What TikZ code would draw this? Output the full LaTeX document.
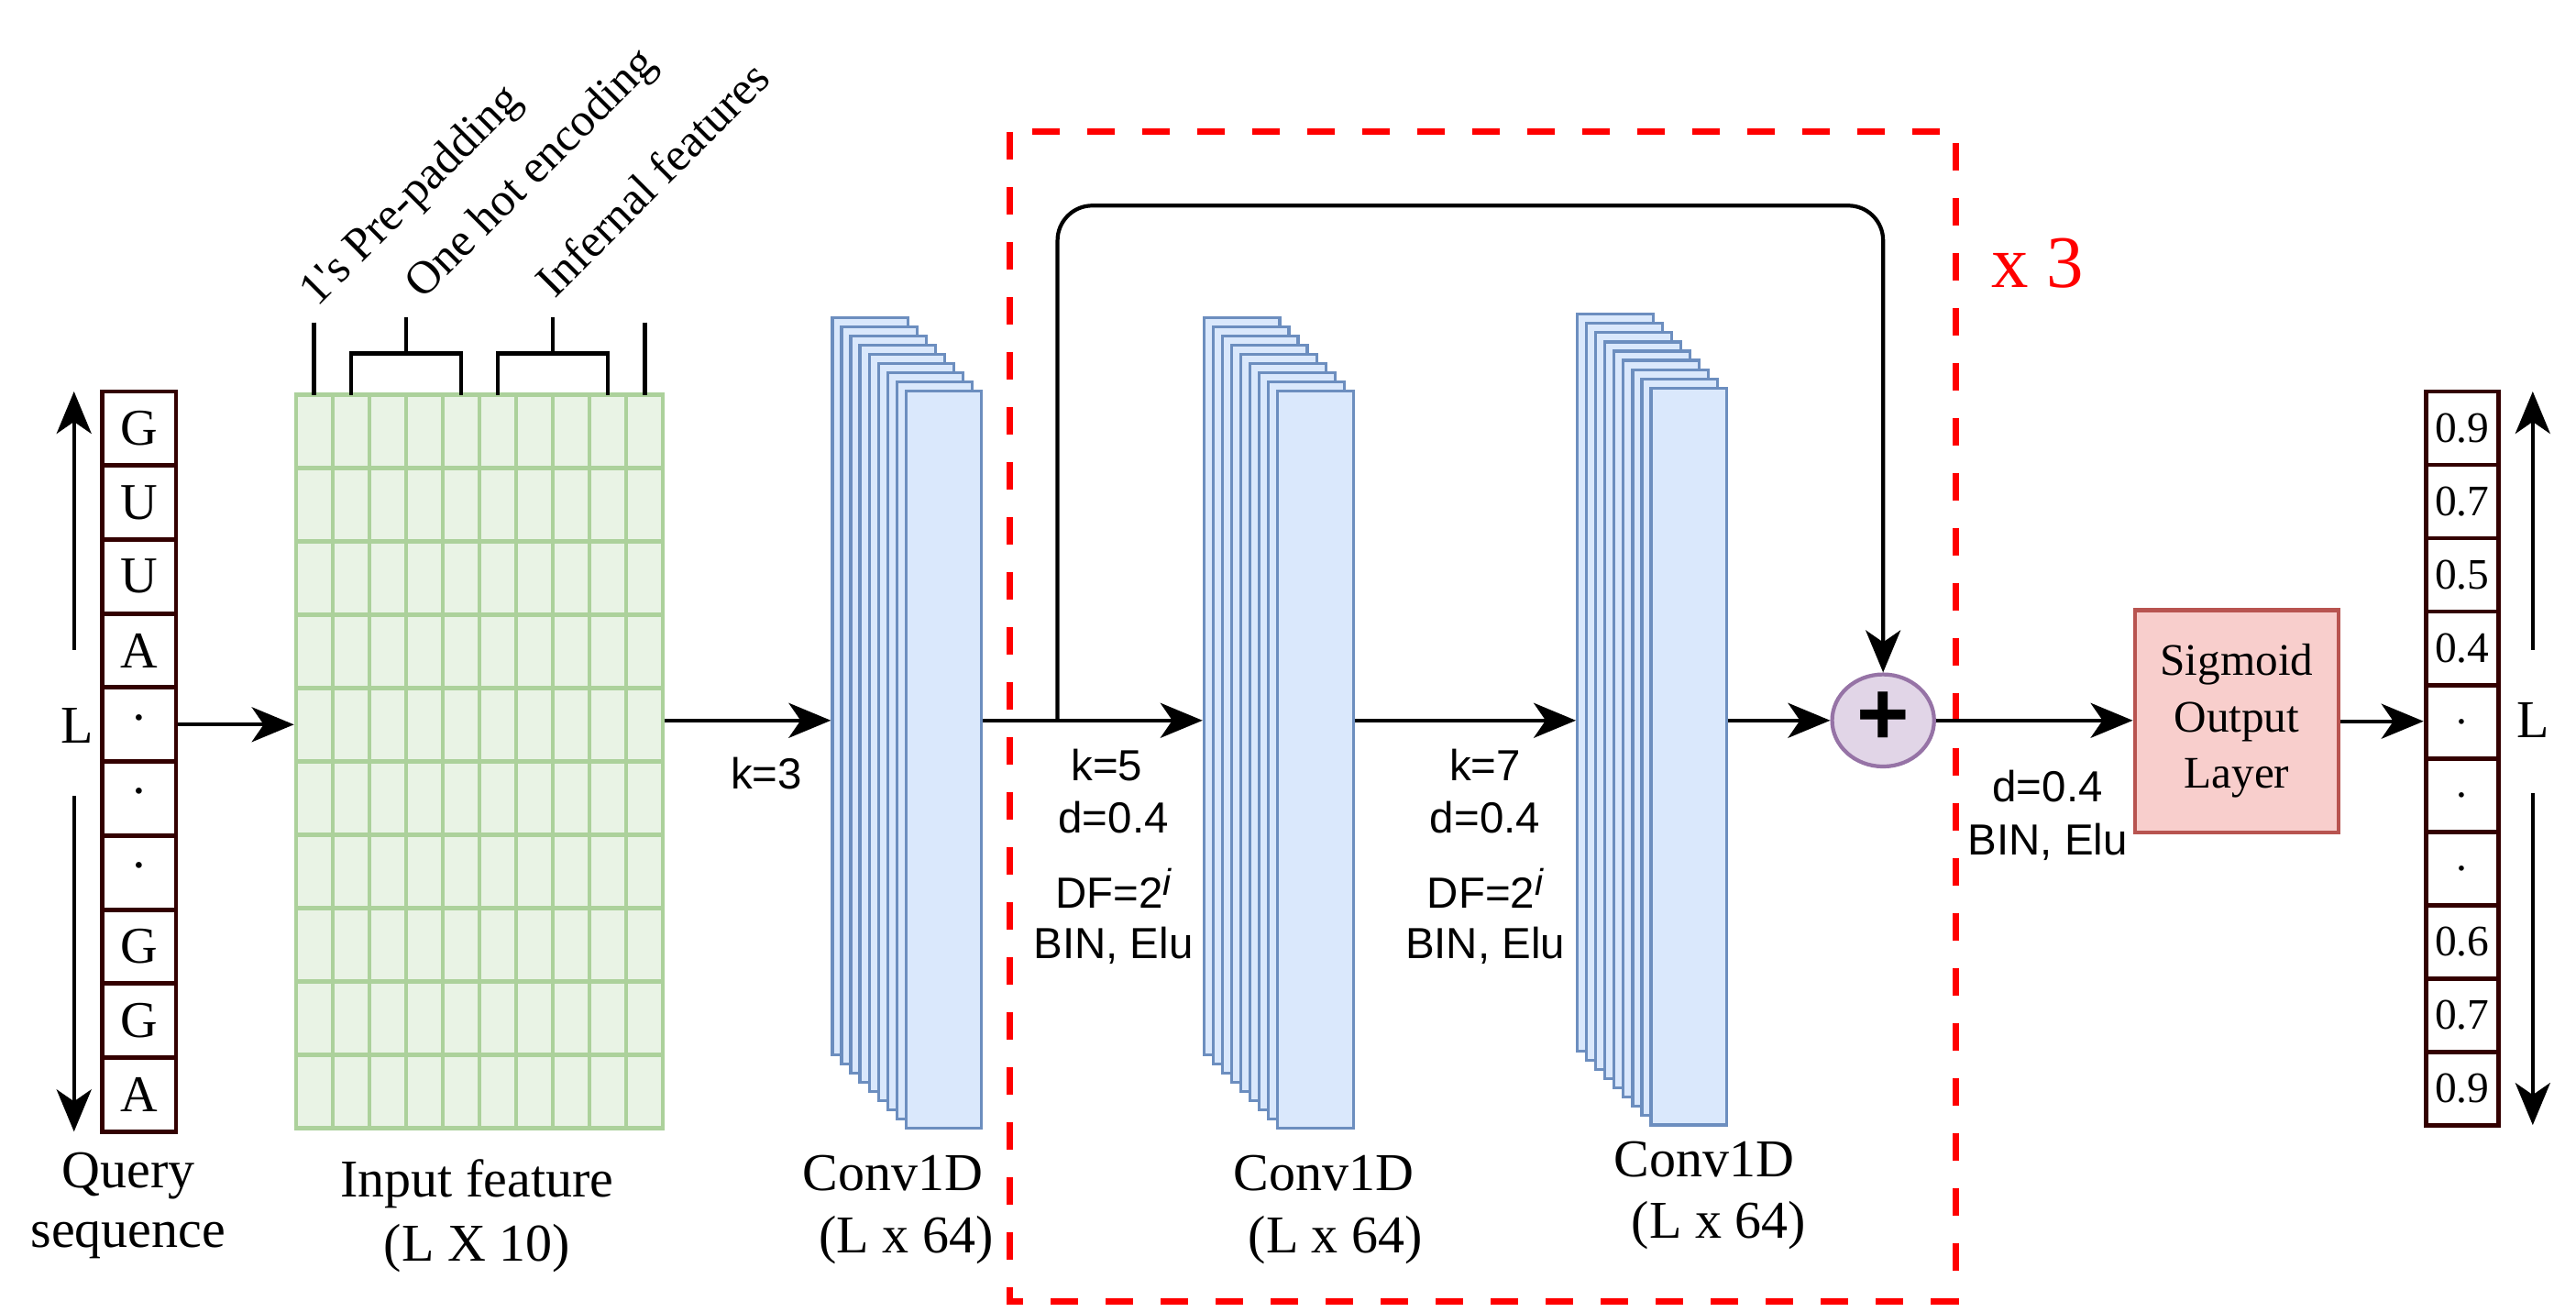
\documentclass[tikz,border=0pt]{standalone}
\usepackage{fontspec}
\setmainfont{Liberation Serif}
\newfontfamily\sansf{Liberation Sans}
\newfontfamily\rotf{Liberation Serif}[Ligatures=TeXOff]
\usetikzlibrary{arrows.meta,shapes.geometric,calc}
\newdimen\du \du=0.1794mm
\definecolor{gfill}{RGB}{233,243,229}
\definecolor{gline}{RGB}{172,209,155}
\definecolor{cfill}{HTML}{DAE8FC}
\definecolor{cline}{HTML}{6C8EBF}
\definecolor{pfill}{HTML}{E1D5E7}
\definecolor{pline}{HTML}{9673A6}
\definecolor{sfill}{HTML}{F8CECC}
\definecolor{sline}{HTML}{B85450}
\definecolor{qline}{HTML}{330000}
\tikzset{
  arr/.style={line width=1.2pt,-{Stealth[length=4.6mm,width=3.8mm,inset=1.3mm]}},
  plain/.style={line width=1.3pt},
  cell/.style={draw=qline,line width=1.4pt,fill=white,minimum width=45\du,minimum height=45\du,inner sep=0pt,font=\fontsize{16}{18}\selectfont},
  ocell/.style={draw=qline,line width=1.4pt,fill=white,minimum width=44\du,minimum height=44.6\du,inner sep=0pt,font=\fontsize{13.5}{16}\selectfont},
  conv/.style={draw=cline,fill=cfill,line width=0.9pt,minimum width=46\du,minimum height=448\du,inner sep=0pt,anchor=north west},
  lbl/.style={font=\fontsize{16.5}{20}\selectfont,inner sep=0pt},
  slbl/.style={font=\sansf\fontsize{13.5}{16}\selectfont,inner sep=0pt},
  rot/.style={font=\rotf\fontsize{14.5}{18}\selectfont,rotate=45,anchor=base west,inner sep=0pt},
}
\newcommand\dfi{DF=2\raisebox{0.55ex}{\fontsize{11.5}{12}\selectfont\itshape i}}
\begin{document}
\begin{tikzpicture}[x=0.1794mm,y=-0.1794mm]
\useasboundingbox (0,0) rectangle (1566.3,797.1);
\coordinate (ym) at (0,438);

% red repeat box
\draw[red,line width=2pt,dash pattern=on 3mm off 3mm] (614,80) rectangle (1189,791);
\node[text=red,font=\fontsize{23}{26}\selectfont,inner sep=0pt] (x3) at (1239,160) {x 3};

% query sequence
\foreach \t [count=\i] in {G,U,U,A,·,·,·,G,G,A}
  \node[cell] (q\i) at (84.5,{260.5+45*(\i-1)}) {\t};
\node[lbl] (Lq) at (47,441) {L};
\draw[arr] (45,395) coordinate (qa1) -- (45,238) coordinate (qa2);
\draw[arr] (45,484) coordinate (qa3) -- (45,688) coordinate (qa4);
\node[lbl] (qlab1) at (78,715) {Query};
\node[lbl] (qlab2) at (78,754) {sequence};

% input feature grid
\node[draw=gline,fill=gfill,line width=1.3pt,minimum width=223\du,minimum height=446\du,inner sep=0pt] (grid) at (291.5,463) {};
\foreach \k in {1,...,9} {
  \draw[gline,line width=1.3pt] ({180+22.3*\k},240) -- ({180+22.3*\k},686);
  \draw[gline,line width=1.3pt] (180,{240+44.6*\k}) -- (403,{240+44.6*\k});
}
\node[lbl] (glab1) at (290,720) {Input feature};
\node[lbl] (glab2) at (290,759) {(L X 10)};

% brackets
\draw[plain] (191,196) coordinate (b1) -- (191,240);
\draw[plain] (213.5,240) -- (213.5,215) -- (280.4,215) -- (280.4,240);
\draw[plain] (247,215) -- (247,193) coordinate (b2);
\draw[plain] (302.7,240) -- (302.7,215) -- (369.6,215) -- (369.6,240);
\draw[plain] (336,215) -- (336,193) coordinate (b3);
\draw[plain] (392,196) coordinate (b4) -- (392,240);
\node[rot] (t1) at (193,187) {1's Pre-padding};
\node[rot] (t2) at (257,183) {One hot encoding};
\node[rot] (t3) at (337,182) {Infernal features};

% conv stacks
\foreach \k in {8,...,0} {
  \node[conv] (a\k) at ({550-5.6*\k},{237-5.6*\k}) {};
}
\foreach \k in {8,...,0} {
  \node[conv] (b\k) at ({776-5.6*\k},{237-5.6*\k}) {};
}
\foreach \k in {8,...,0} {
  \node[conv] (c\k) at ({1003-5.6*\k},{235-5.6*\k}) {};
}
\node[lbl] (alab1) at (543,713) {Conv1D};
\node[lbl] (alab2) at (551,754) {(L x 64)};
\node[lbl] (blab1) at (805,713) {Conv1D};
\node[lbl] (blab2) at (812,754) {(L x 64)};
\node[lbl] (clab1) at (1036,705) {Conv1D};
\node[lbl] (clab2) at (1045,745) {(L x 64)};

% plus and sigmoid
\node[ellipse,draw=pline,fill=pfill,line width=1.2pt,minimum width=62\du,minimum height=56\du,inner sep=0pt,font=\sansf\bfseries\fontsize{28}{28}\selectfont] (plus) at (1145,438) {\smash{\raisebox{-0.27em}{+}}};
\node[draw=sline,fill=sfill,line width=1.2pt,minimum width=124\du,minimum height=135\du,align=center,font=\fontsize{14}{17.5}\selectfont,inner sep=0pt] (sig) at (1360,438.5) {Sigmoid\\Output\\Layer};

% output column
\foreach \t [count=\i] in {0.9,0.7,0.5,0.4,.,.,.,0.6,0.7,0.9}
  \node[ocell] (o\i) at (1497,{260.3+44.6*(\i-1)}) {\t};
\node[lbl] (Lo) at (1540,438) {L};
\draw[arr] (1540,395) coordinate (oa1) -- (1540,238) coordinate (oa2);
\draw[arr] (1540,482) coordinate (oa3) -- (1540,684) coordinate (oa4);

% connectors
\draw[arr] (q5.east) -- (q5.east -| grid.west);
\draw[arr] (ym -| grid.east) -- (ym -| a8.west);
\draw[arr] (ym -| a0.east) -- (ym -| b8.west);
\draw[arr] (ym -| b0.east) -- (ym -| c8.west);
\draw[arr] (ym -| c0.east) -- (plus.west);
\draw[arr] (plus.east) -- (plus.east -| sig.west);
\draw[arr] (sig.east) -- (sig.east -| o5.west);
\coordinate (sk) at (643,438);
\draw[arr,rounded corners=3.8mm] (sk) -- (643,125) -- (plus.north |- 0,125) -- (plus.north);

% labels
\node[slbl] (k3) at (466,470) {k=3};
\node[slbl] (k5) at (673,465) {k=5};
\node[slbl] (d5) at (677,497) {d=0.4};
\node[slbl] (f5) at (677,540) {\dfi};
\node[slbl] (e5) at (677,575) {BIN, Elu};
\node[slbl] (k7) at (903,465) {k=7};
\node[slbl] (d7) at (903,497) {d=0.4};
\node[slbl] (f7) at (903,540) {\dfi};
\node[slbl] (e7) at (903,575) {BIN, Elu};
\node[slbl] (d9) at (1245,478) {d=0.4};
\node[slbl] (e9) at (1245,512) {BIN, Elu};
\end{tikzpicture}
\end{document}
